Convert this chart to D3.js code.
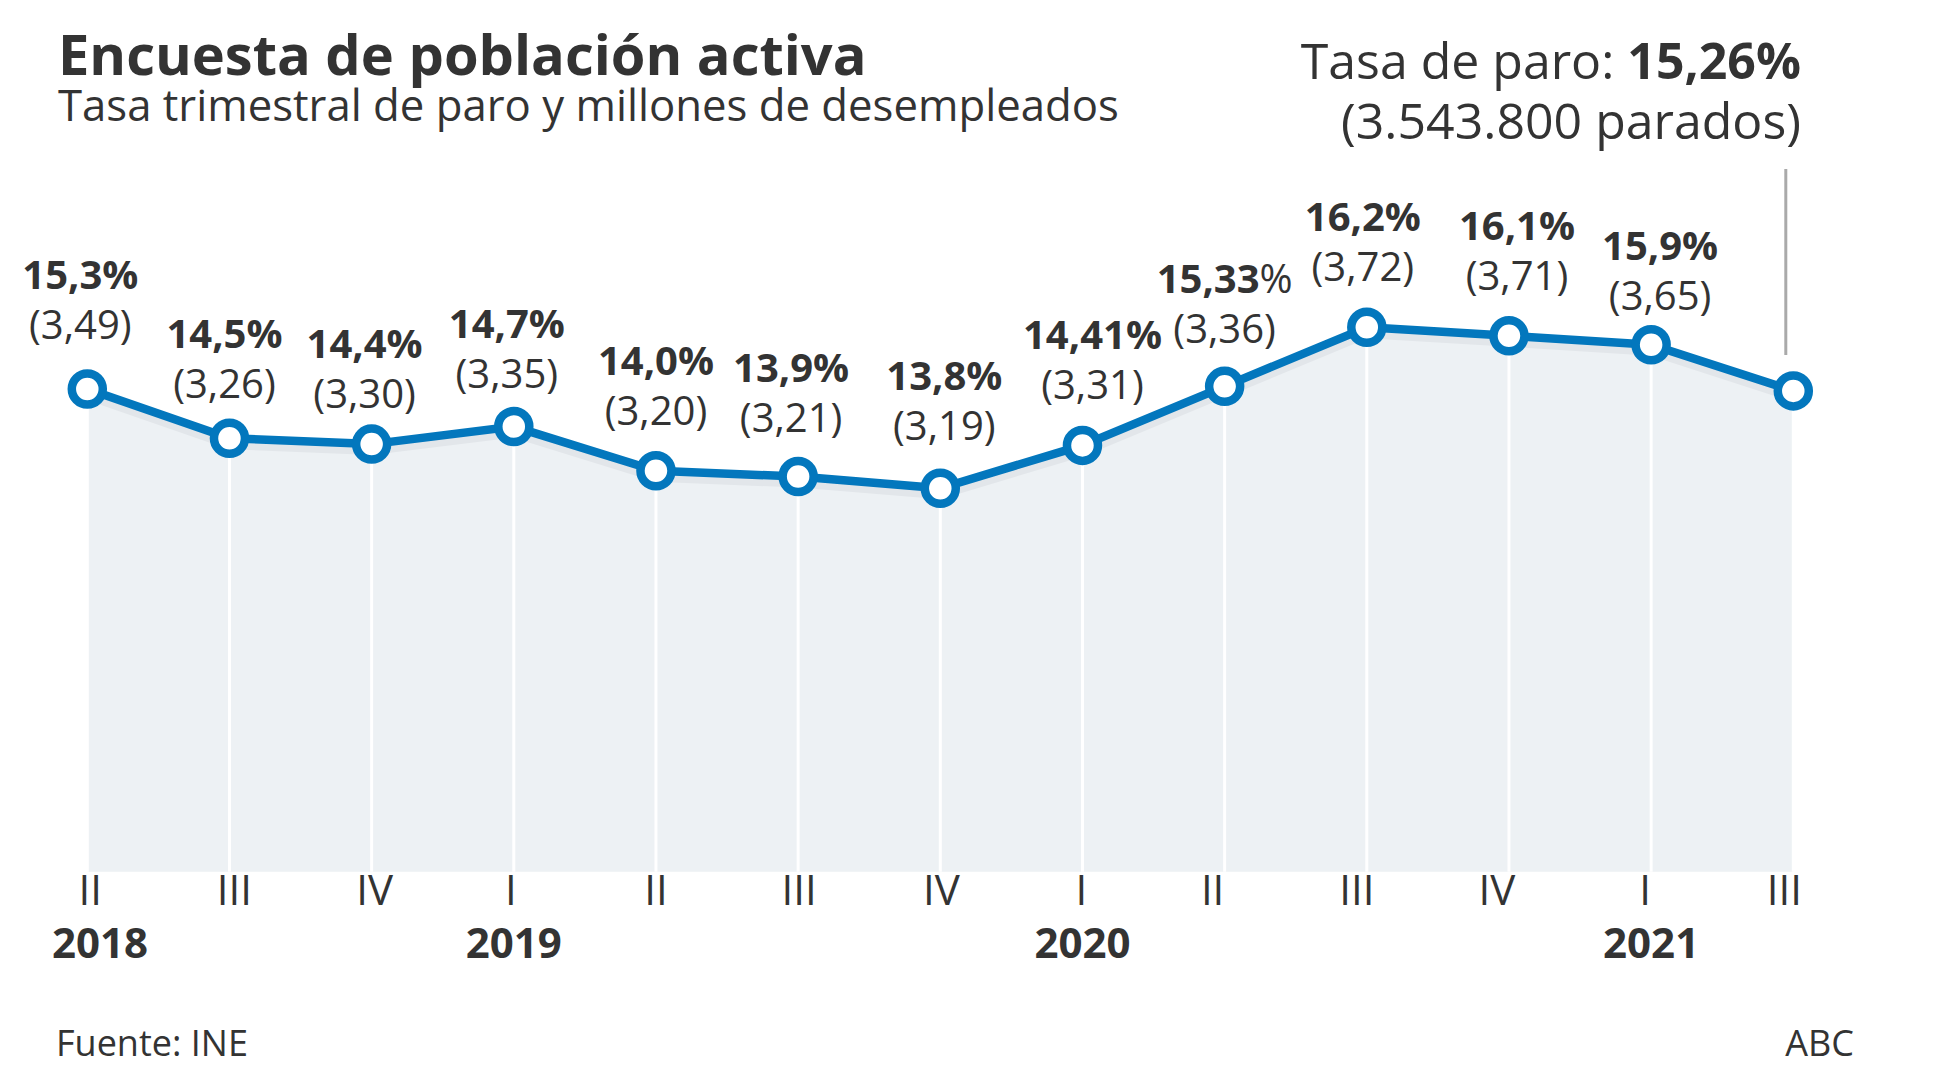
<!DOCTYPE html>
<html><head><meta charset="utf-8">
<script src="https://cdn.jsdelivr.net/npm/d3@7"></script>
<style>
html,body{margin:0;padding:0;background:#fff;}
svg{display:block;font-family:"Open Sans",sans-serif;}
</style></head><body>
<svg id="chart" width="1937" height="1090"></svg>
<script>
// ---- data ----
const quarters = ["II","III","IV","I","II","III","IV","I","II","III","IV","I","III"];
const years = ["2018","","","2019","","","","2020","","","","2021",""];
const rate = [15.31,14.55,14.46,14.73,14.05,13.96,13.78,14.44,15.35,16.26,16.13,15.99,15.28];
const rateLabels = ["15,3%","14,5%","14,4%","14,7%","14,0%","13,9%","13,8%","14,41%","15,33%","16,2%","16,1%","15,9%",""];
const unemployedLabels = ["(3,49)","(3,26)","(3,30)","(3,35)","(3,20)","(3,21)","(3,19)","(3,31)","(3,36)","(3,72)","(3,71)","(3,65)",""];
const lastRate = "15,26%";
const lastUnemployed = "(3.543.800 parados)";

// ---- layout (label nudges: dx, baseline distance above point) ----
const labelNudge = [[-7,50],[-5,40],[-7,36],[-7,39],[0,46],[-7,45],[4,48],[10,46],[0,43],[-4,46],[8,46],[9,35],[0,0]];
const quarterNudge = [3,5,3,-3,0,1,1,-1,-12,-10,-12,-6,-9];

const W = 1937, H = 1090;
const svg = d3.select("#chart");
const ink = "#333333", blue = "#0377bd";

const idx = d3.range(rate.length);
const x = d3.scalePoint().domain(idx).range([87.3, 1793.3]);
const y = d3.scaleLinear().domain([7.87, 16.26]).range([871.7, 327.3]);
const bottom = y.range()[0];

// area
svg.append("path").datum(idx)
  .attr("d", d3.area().x(i => x(i)).y0(bottom).y1(i => y(rate[i])))
  .attr("fill", "#edf1f4");

// white vertical guides
svg.append("g").selectAll("line").data(idx).join("line")
  .attr("x1", i => x(i)).attr("x2", i => x(i))
  .attr("y1", i => y(rate[i])).attr("y2", bottom)
  .attr("stroke", "#fff").attr("stroke-width", 3);

// soft shadow under line
const lineGen = d3.line().x(i => x(i)).y(i => y(rate[i]));
svg.append("path").datum(idx).attr("d", lineGen)
  .attr("transform", "translate(0,7)")
  .attr("fill", "none").attr("stroke", "#e2e6ea").attr("stroke-width", 8);

// annotation guide for last point
svg.append("line")
  .attr("x1", x(idx.length - 1) - 7.5).attr("x2", x(idx.length - 1) - 7.5)
  .attr("y1", 169).attr("y2", 355)
  .attr("stroke", "#aaaaaa").attr("stroke-width", 3);

// main line
svg.append("path").datum(idx).attr("d", lineGen)
  .attr("fill", "none").attr("stroke", blue).attr("stroke-width", 8.5)
  .attr("stroke-linejoin", "round");

// points
svg.append("g").selectAll("circle").data(idx).join("circle")
  .attr("cx", i => x(i)).attr("cy", i => y(rate[i])).attr("r", 15.5)
  .attr("fill", "#fff").attr("stroke", blue).attr("stroke-width", 8.5);

// labels
const lab = svg.append("g").attr("fill", ink).attr("text-anchor", "middle").attr("font-size", 40);
idx.filter(i => rateLabels[i]).forEach(i => {
  const cx = x(i) + labelNudge[i][0];
  const by = y(rate[i]) - labelNudge[i][1];
  const t = lab.append("text").attr("x", cx).attr("y", by - 50);
  const txt = rateLabels[i];
  if (txt === "15,33%") {
    t.append("tspan").attr("font-weight", 700).text(txt.slice(0, -1));
    t.append("tspan").attr("font-weight", 400).text("%");
  } else {
    t.attr("font-weight", 700).text(txt);
  }
  lab.append("text").attr("x", cx).attr("y", by).attr("font-weight", 400).text(unemployedLabels[i]);
});

// x axis: quarters and years
const ax = svg.append("g").attr("fill", ink).attr("text-anchor", "middle");
ax.selectAll("text.q").data(idx).join("text").attr("class", "q")
  .attr("x", i => x(i) + quarterNudge[i]).attr("y", 905).attr("font-size", 42).attr("font-weight", 400)
  .text(i => quarters[i]);
ax.selectAll("text.y").data(idx.filter(i => years[i])).join("text").attr("class", "y")
  .attr("x", i => x(i)).attr("y", 958).attr("font-size", 42).attr("font-weight", 700)
  .text(i => years[i])
  .each(function () {
    const b = this.getBBox();
    if (b.x < 52) d3.select(this).attr("x", +d3.select(this).attr("x") + (52 - b.x));
  });

// title & subtitle
svg.append("text").attr("x", 58).attr("y", 75).attr("fill", ink)
  .attr("font-size", 56).attr("font-weight", 700).text("Encuesta de población activa");
svg.append("text").attr("x", 58).attr("y", 121).attr("fill", ink)
  .attr("font-size", 43.7).attr("font-weight", 400).text("Tasa trimestral de paro y millones de desempleados");

// top-right annotation
const ann = svg.append("g").attr("fill", ink).attr("text-anchor", "end").attr("font-size", 50);
const a1 = ann.append("text").attr("x", 1801).attr("y", 79);
a1.append("tspan").attr("font-weight", 400).text("Tasa de paro: ");
a1.append("tspan").attr("font-weight", 700).text(lastRate);
ann.append("text").attr("x", 1801).attr("y", 139).attr("font-weight", 400).text(lastUnemployed);

// footer
svg.append("text").attr("x", 56).attr("y", 1056).attr("fill", ink).attr("font-size", 36).text("Fuente: INE");
svg.append("text").attr("x", 1854).attr("y", 1056).attr("fill", ink).attr("font-size", 36)
  .attr("text-anchor", "end").text("ABC");
</script>
</body></html>
